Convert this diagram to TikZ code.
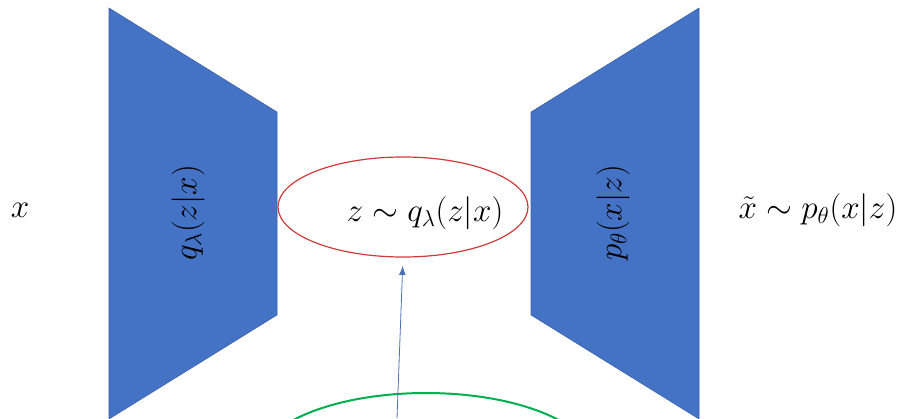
\documentclass[tikz,border=0pt]{standalone}
\usepackage{amsmath,amssymb}
\usepackage{xcolor}
\usetikzlibrary{shapes.geometric,arrows.meta,positioning}
\definecolor{netblue}{HTML}{4472C4}
\definecolor{netedge}{HTML}{3A62AA}
\definecolor{postred}{HTML}{D03A3A}
\definecolor{priorgreen}{HTML}{00B050}
\definecolor{arrowblue}{HTML}{4F6FB5}

\begin{document}
\begin{tikzpicture}[x=0.75pt, y=-0.75pt, >=Latex, font=\fontsize{24}{28}\selectfont,
  net/.style={fill=netblue, draw=netedge, line width=0.4pt},
  lbl/.style={inner sep=0pt, rotate=90},
  dist/.style={draw, ellipse, inner sep=0pt}]
\clip (0,0) rectangle (909,418);
\useasboundingbox (0,0) rectangle (909,418);
% encoder and decoder
\draw[net] (109,8) -- (277,112) -- (277,315) -- (109,419) -- cycle;
\draw[net] (531,112) -- (699,8) -- (699,419) -- (531,315) -- cycle;
\node[lbl] (enc) at (188,213) {$q_\lambda(z|x)$};
\node[lbl] (dec) at (613,213) {$p_\theta(x|z)$};
% inputs and outputs
\node (x) at (20,210) {$x$};
\node (xt) at (818,210) {$\tilde{x} \sim p_\theta(x|z)$};
% latent
\node[dist, draw=postred, line width=0.9pt, minimum width=187.5pt, minimum height=75pt] (lat) at (403,207) {};
\node (z) at (425,213) {$z \sim q_\lambda(z|x)$};
\node[dist, draw=priorgreen, line width=1.5pt, minimum width=252pt, minimum height=105pt] (prior) at (426,463) {};
\coordinate (src) at (397,418);
\draw[->, arrowblue, line width=0.6pt, shorten >=6pt, arrows={-Latex[length=7pt,width=5pt]}] (src) -- (lat.south);
\end{tikzpicture}
\end{document}
